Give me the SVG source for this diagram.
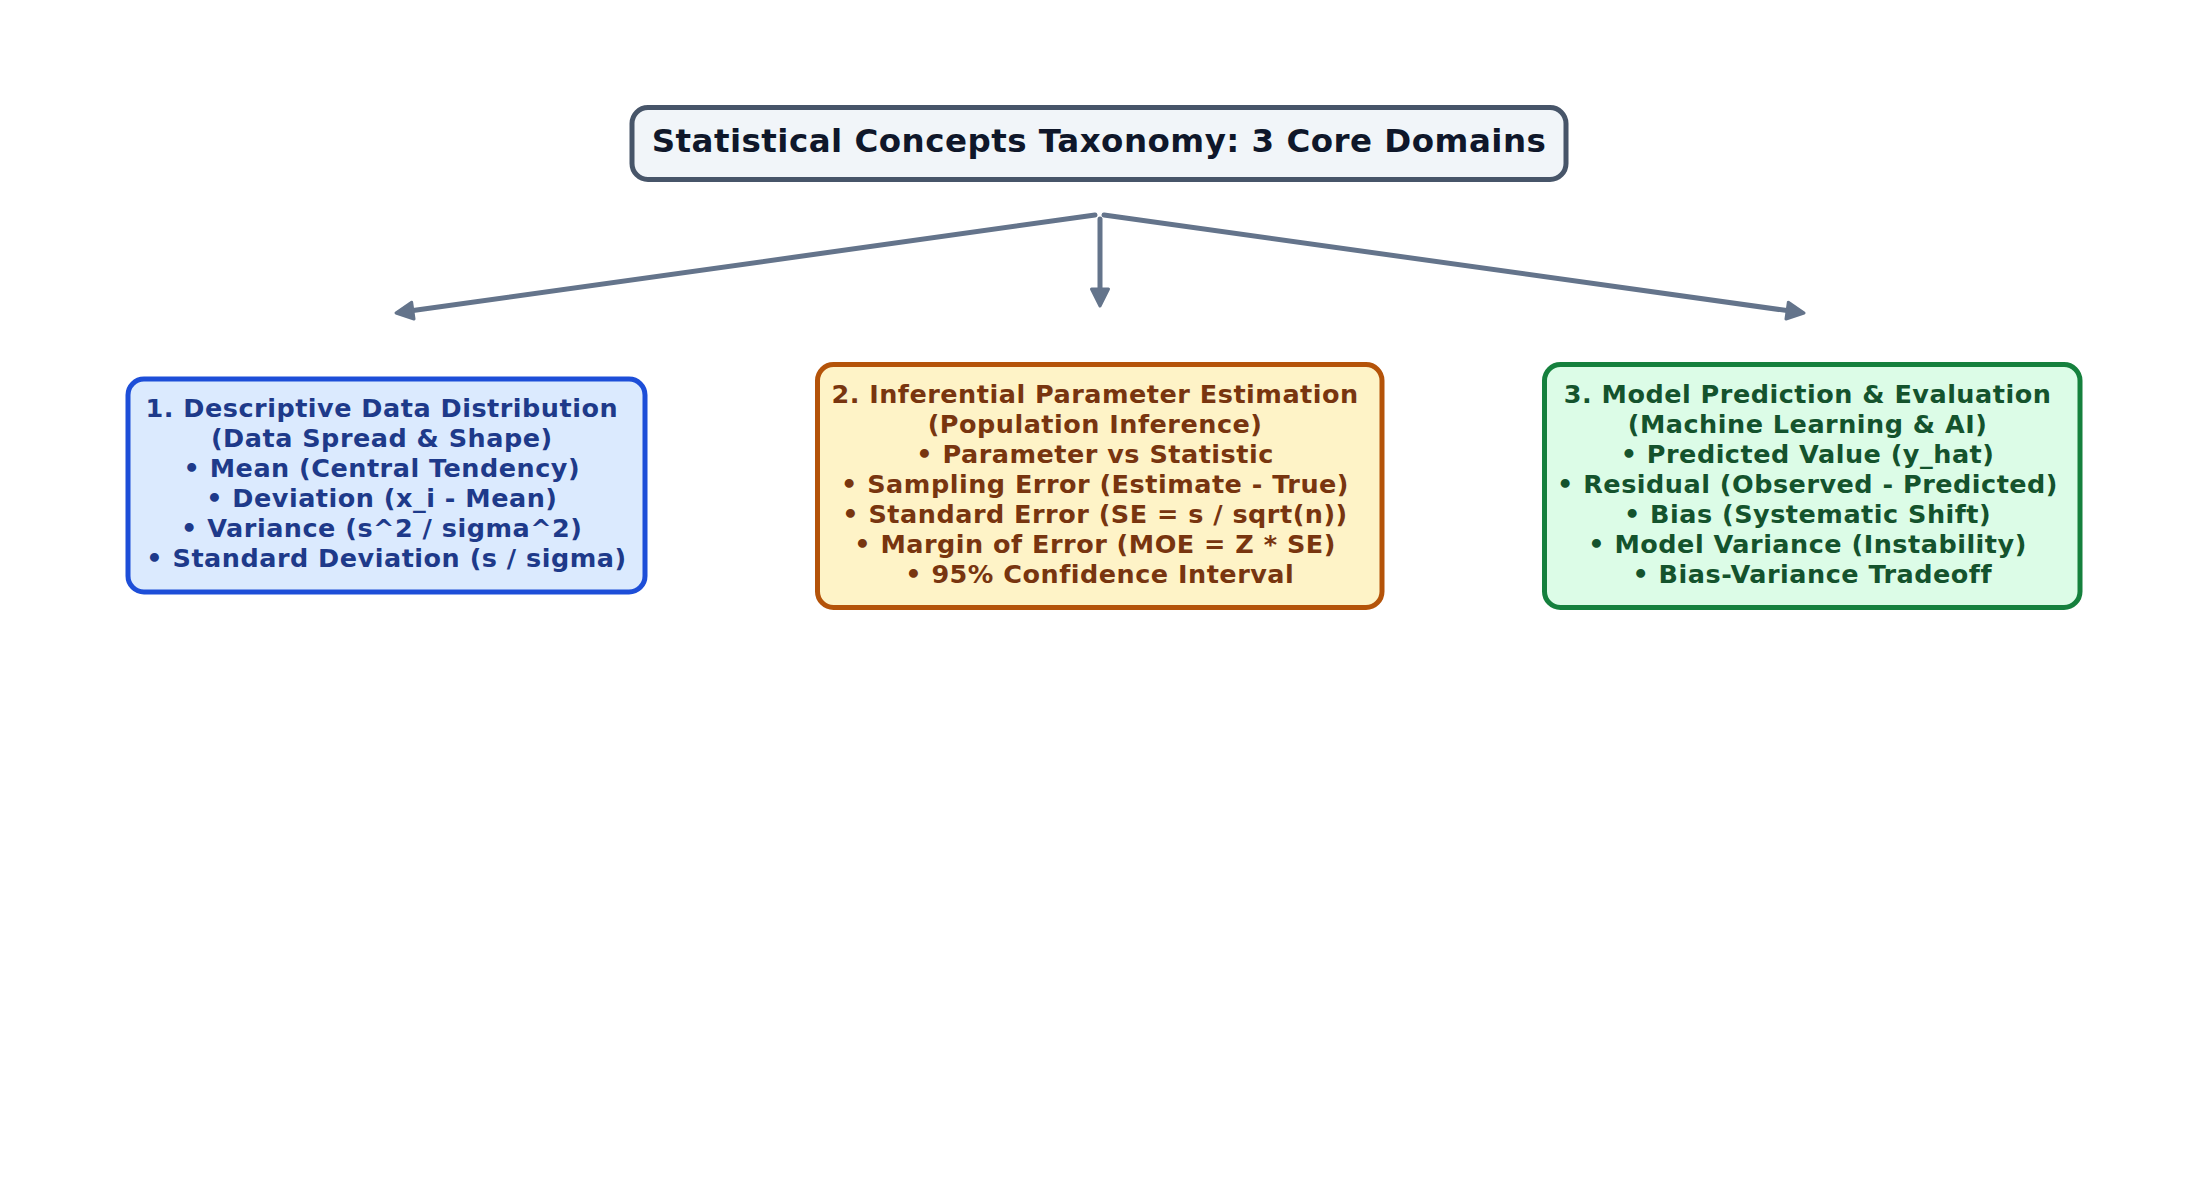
<svg xmlns="http://www.w3.org/2000/svg" width="2200" height="1200" viewBox="0 0 2200 1200">
<style>
text{font-family:"DejaVu Sans","Liberation Sans",sans-serif;font-weight:bold;text-anchor:middle}
.box{stroke-width:5}
.title rect{fill:#f1f5f9;stroke:#475569}
.title text{font-size:32.5px;letter-spacing:0.47px;fill:#0f172a}
.n1 rect{fill:#dbeafe;stroke:#1d4ed8}
.n1 text{fill:#1e3a8a}
.n2 rect{fill:#fef3c7;stroke:#b45309}
.n2 text{fill:#78350f}
.n3 rect{fill:#dcfce7;stroke:#15803d}
.n3 text{fill:#14532d}
.body{font-size:25.5px;letter-spacing:0.5px}
.edge{fill:none;stroke:#64748b;stroke-width:5;stroke-linecap:round}
</style>
<defs>
<marker id="ah" markerUnits="userSpaceOnUse" markerWidth="40" markerHeight="40" viewBox="-20 -20 40 40" refX="0" refY="0" orient="auto">
<path d="M10,0 L-7,-8.5 L-7,8.5 Z" fill="#64748b" stroke="#64748b" stroke-width="3" stroke-linejoin="round"/>
</marker>
</defs>
<rect width="2200" height="1200" fill="#ffffff"/>
<g id="connectors">
<line class="edge" x1="1095" y1="215" x2="405.9" y2="311.6" marker-end="url(#ah)"/>
<line class="edge" x1="1100" y1="219" x2="1100" y2="296" marker-end="url(#ah)"/>
<line class="edge" x1="1104" y1="215" x2="1794.1" y2="311.6" marker-end="url(#ah)"/>
</g>
<g id="title" class="title">
<rect class="box" x="632" y="107.5" width="934" height="72" rx="16"/>
<text x="1099" y="152">Statistical Concepts Taxonomy: 3 Core Domains</text>
</g>
<g id="node1" class="n1">
<rect class="box" x="128" y="379" width="517" height="213" rx="16"/>
<text class="body" x="386.5">
<tspan x="386.5" y="417">1. Descriptive Data Distribution</tspan>
<tspan x="386.5" y="447">(Data Spread &amp; Shape)</tspan>
<tspan x="386.5" y="477">• Mean (Central Tendency)</tspan>
<tspan x="386.5" y="507">• Deviation (x_i - Mean)</tspan>
<tspan x="386.5" y="537">• Variance (s^2 / sigma^2)</tspan>
<tspan x="386.5" y="567">• Standard Deviation (s / sigma)</tspan>
</text>
</g>
<g id="node2" class="n2">
<rect class="box" x="817.5" y="364.5" width="564.5" height="243" rx="16"/>
<text class="body" x="1099.75">
<tspan x="1099.75" y="403">2. Inferential Parameter Estimation</tspan>
<tspan x="1099.75" y="433">(Population Inference)</tspan>
<tspan x="1099.75" y="463">• Parameter vs Statistic</tspan>
<tspan x="1099.75" y="493">• Sampling Error (Estimate - True)</tspan>
<tspan x="1099.75" y="523">• Standard Error (SE = s / sqrt(n))</tspan>
<tspan x="1099.75" y="553">• Margin of Error (MOE = Z * SE)</tspan>
<tspan x="1099.75" y="583">• 95% Confidence Interval</tspan>
</text>
</g>
<g id="node3" class="n3">
<rect class="box" x="1544.5" y="364.5" width="535.5" height="243" rx="16"/>
<text class="body" x="1812.25">
<tspan x="1812.25" y="403">3. Model Prediction &amp; Evaluation</tspan>
<tspan x="1812.25" y="433">(Machine Learning &amp; AI)</tspan>
<tspan x="1812.25" y="463">• Predicted Value (y_hat)</tspan>
<tspan x="1812.25" y="493">• Residual (Observed - Predicted)</tspan>
<tspan x="1812.25" y="523">• Bias (Systematic Shift)</tspan>
<tspan x="1812.25" y="553">• Model Variance (Instability)</tspan>
<tspan x="1812.25" y="583">• Bias-Variance Tradeoff</tspan>
</text>
</g>
</svg>
